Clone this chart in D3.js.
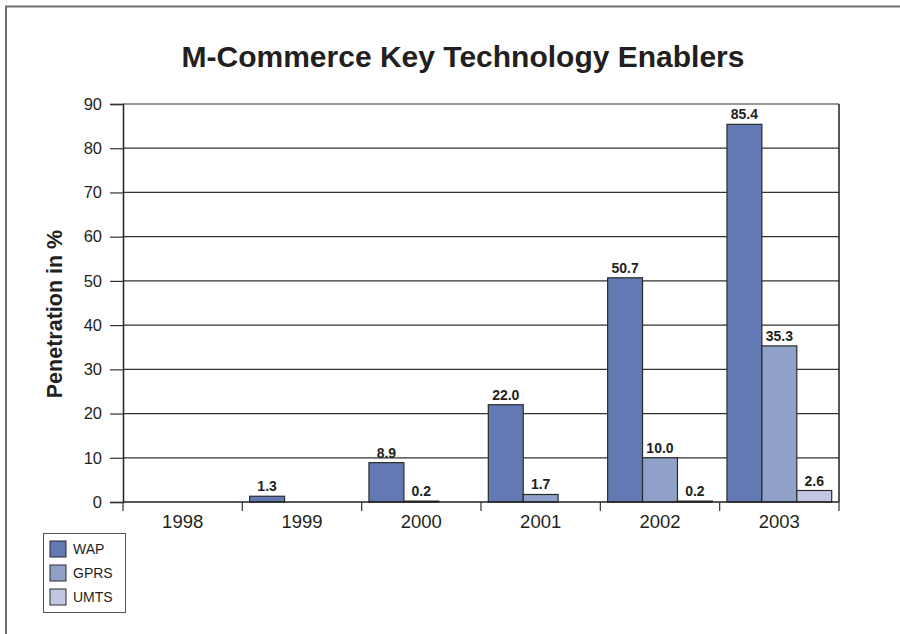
<!DOCTYPE html>
<html>
<head>
<meta charset="utf-8">
<script src="https://cdn.jsdelivr.net/npm/d3@7"></script>
<style>
  html, body { margin: 0; padding: 0; background: #fff; }
  svg { display: block; font-family: "Liberation Sans", Arial, Helvetica, sans-serif; }
</style>
</head>
<body>
<svg id="chart" width="900" height="634"></svg>
<script>
// Chart data
const years = ["1998", "1999", "2000", "2001", "2002", "2003"];
const seriesNames = ["WAP", "GPRS", "UMTS"];
const wap  = [null, 1.3, 8.9, 22.0, 50.7, 85.4];
const gprs = [null, null, 0.2, 1.7, 10.0, 35.3];
const umts = [null, null, null, null, 0.2, 2.6];
const yTicks = [0, 10, 20, 30, 40, 50, 60, 70, 80, 90];
const colors = ["#6279b4", "#8fa1c9", "#c1c7e3"];

const seriesValues = [wap, gprs, umts];

const svg = d3.select("#chart");

// outer frame (top and left edges)
svg.append("path")
  .attr("d", "M6,900 V6.5 H900")
  .attr("fill", "none")
  .attr("stroke", "#6e6e6e")
  .attr("stroke-width", 2);

const plot = { left: 123, right: 839, top: 104, bottom: 502 };

const x0 = d3.scaleBand().domain(years).range([plot.left, plot.right]).padding(0);
const x1 = d3.scaleBand().domain(seriesNames)
  .range([7.3, x0.bandwidth() - 7.3]).padding(0);
const y = d3.scaleLinear().domain([0, 90]).range([plot.bottom, plot.top]);

// title
svg.append("text")
  .attr("x", 463).attr("y", 67)
  .attr("text-anchor", "middle")
  .attr("font-size", 30).attr("font-weight", "bold")
  .attr("fill", "#231f20")
  .text("M-Commerce Key Technology Enablers");

// gridlines
svg.append("g").selectAll("line").data(yTicks.filter(t => t > 0)).join("line")
  .attr("x1", plot.left).attr("x2", plot.right)
  .attr("y1", d => y(d)).attr("y2", d => y(d))
  .attr("stroke", "#333").attr("stroke-width", 1.2);

// y axis
const yAxis = svg.append("g")
  .attr("transform", `translate(${plot.left},0)`)
  .call(d3.axisLeft(y).tickValues(yTicks).tickSize(13).tickPadding(8));
yAxis.select(".domain").attr("stroke", "#231f20").attr("stroke-width", 1.5);
yAxis.selectAll(".tick line").attr("stroke", "#333").attr("stroke-width", 1.2);
yAxis.selectAll(".tick text")
  .attr("font-size", 16.5).attr("fill", "#231f20")
  .attr("font-family", "'Liberation Sans', Arial, sans-serif");

// right border
svg.append("line")
  .attr("x1", plot.right).attr("x2", plot.right)
  .attr("y1", plot.top).attr("y2", plot.bottom)
  .attr("stroke", "#231f20").attr("stroke-width", 1.5);

// y label
svg.append("text")
  .attr("transform", "translate(62,314) rotate(-90)")
  .attr("text-anchor", "middle")
  .attr("font-size", 21.5).attr("font-weight", "bold")
  .attr("fill", "#231f20")
  .text("Penetration in %");

// bars
const groups = svg.append("g").selectAll("g").data(years).join("g")
  .attr("transform", d => `translate(${x0(d)},0)`);

const rows = (yr, i) => seriesNames.map((s, k) => ({ s, k, v: seriesValues[k][i] }))
  .filter(d => d.v !== null);

groups.each(function (yr, i) {
  const g = d3.select(this);
  const data = rows(yr, i);
  g.selectAll("rect").data(data).join("rect")
    .attr("x", d => x1(d.s))
    .attr("width", x1.bandwidth())
    .attr("y", d => y(d.v))
    .attr("height", d => y(0) - y(d.v))
    .attr("fill", d => colors[d.k])
    .attr("stroke", "#2b2b2b").attr("stroke-width", 1.2);
  g.selectAll("text").data(data).join("text")
    .attr("x", d => x1(d.s) + x1.bandwidth() / 2)
    .attr("y", d => y(d.v) - 5)
    .attr("text-anchor", "middle")
    .attr("font-size", 14).attr("font-weight", "bold")
    .attr("fill", "#231f20")
    .text(d => d.v.toFixed(1));
});

// x axis
const xAxis = svg.append("g")
  .attr("transform", `translate(0,${plot.bottom})`)
  .call(d3.axisBottom(x0).tickSize(0).tickPadding(13));
xAxis.select(".domain").remove();
xAxis.selectAll(".tick text")
  .attr("font-size", 18.5).attr("fill", "#231f20")
  .attr("font-family", "'Liberation Sans', Arial, sans-serif");
svg.append("line")
  .attr("x1", plot.left).attr("x2", plot.right)
  .attr("y1", plot.bottom).attr("y2", plot.bottom)
  .attr("stroke", "#231f20").attr("stroke-width", 1.5);
// category separators below the axis
const seps = years.map(d => x0(d)).concat([plot.right]);
svg.append("g").selectAll("line").data(seps).join("line")
  .attr("x1", d => d).attr("x2", d => d)
  .attr("y1", plot.bottom).attr("y2", plot.bottom + 9)
  .attr("stroke", "#333").attr("stroke-width", 1.2);

// legend
const legend = svg.append("g");
legend.append("rect")
  .attr("x", 43.5).attr("y", 533.5).attr("width", 82).attr("height", 79)
  .attr("fill", "#fff").attr("stroke", "#555").attr("stroke-width", 1);
const items = legend.selectAll("g.item").data(seriesNames).join("g")
  .attr("class", "item")
  .attr("transform", (d, i) => `translate(50,${541 + i * 24})`);
items.append("rect")
  .attr("width", 16).attr("height", 16)
  .attr("fill", (d, i) => colors[i])
  .attr("stroke", "#2b2b2b").attr("stroke-width", 1);
items.append("text")
  .attr("x", 23).attr("y", 13)
  .attr("font-size", 14).attr("fill", "#231f20")
  .text(d => d);
</script>
</body>
</html>
